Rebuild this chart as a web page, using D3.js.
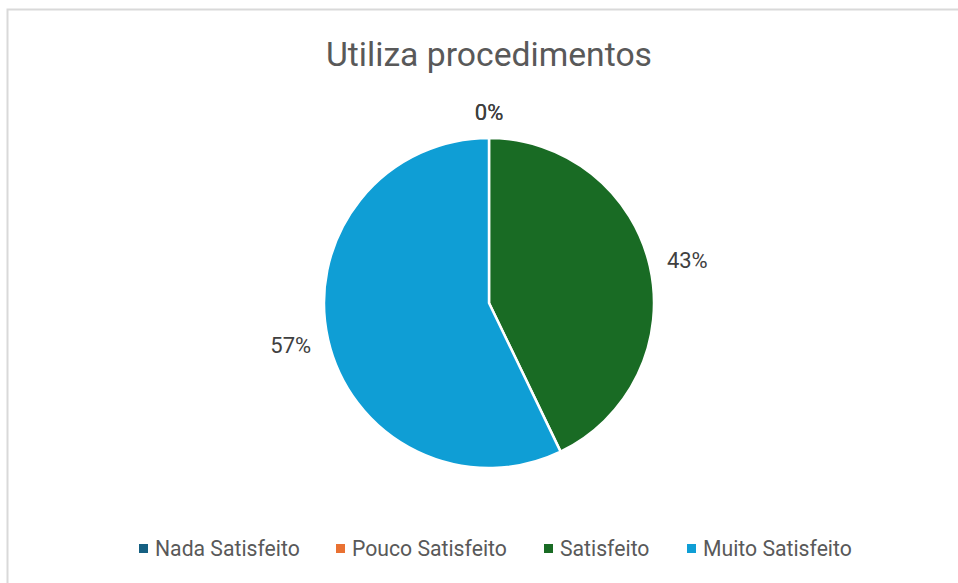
<!DOCTYPE html>
<html>
<head>
<meta charset="utf-8">
<script src="https://cdn.jsdelivr.net/npm/d3@7"></script>
<style>
  html, body { margin: 0; padding: 0; background: #fff; }
  svg { display: block; }
</style>
</head>
<body>
<svg id="chart" width="958" height="583"></svg>
<script>
// Satisfaction responses for "Utiliza procedimentos"
const categories = ["Nada Satisfeito", "Pouco Satisfeito", "Satisfeito", "Muito Satisfeito"];
const counts = [0, 0, 3, 4];
const colors = ["#156082", "#E97132", "#196B24", "#0F9ED5"];
const title = "Utiliza procedimentos";

const W = 958, H = 583;
const svg = d3.select("#chart");
const font = "Roboto, 'Liberation Sans', Arial, sans-serif";

// chart frame (right and bottom edges run past the view)
svg.append("rect")
  .attr("x", 7.5).attr("y", 9.5)
  .attr("width", 1000).attr("height", 1000)
  .attr("fill", "#fff")
  .attr("stroke", "#d9d9d9").attr("stroke-width", 2);

svg.append("text")
  .attr("x", 489).attr("y", 66)
  .attr("text-anchor", "middle")
  .attr("font-family", font)
  .attr("font-size", 33.7)
  .attr("fill", "#595959")
  .text(title);

const data = categories.map((c, i) => ({ cat: c, value: counts[i], color: colors[i] }));
const total = d3.sum(counts);

const cx = 489, cy = 303, R = 165;
const pie = d3.pie().sort(null).value(d => d.value);
const arcs = pie(data);
const arc = d3.arc().innerRadius(0).outerRadius(R);

const g = svg.append("g").attr("transform", `translate(${cx},${cy})`);

g.selectAll("path.slice")
  .data(arcs.filter(d => d.data.value > 0))
  .join("path")
  .attr("class", "slice")
  .attr("d", arc)
  .attr("fill", d => d.data.color)
  .attr("stroke", "#fff")
  .attr("stroke-width", 2.5)
  .attr("stroke-linejoin", "round");

// percentage labels placed just outside the arc
const gap = 18, labelH = 16;
const fmt = d3.format(".0%");
g.selectAll("text.lbl")
  .data(arcs)
  .join("text")
  .attr("class", "lbl")
  .attr("font-family", font)
  .attr("font-size", 22)
  .attr("fill", "#404040")
  .attr("text-anchor", "middle")
  .attr("dominant-baseline", "central")
  .text(d => fmt(d.data.value / total))
  .each(function(d) {
    const a = (d.startAngle + d.endAngle) / 2;
    const w = this.getComputedTextLength();
    const s = Math.sin(a), c = Math.cos(a);
    const x = s * (R + gap) + s * w / 2;
    const y = -c * (R + gap) - c * labelH / 2;
    d3.select(this).attr("x", x).attr("y", y);
  });

// legend
const legendX = [139, 336, 544, 687];
const legend = svg.append("g");
data.forEach((d, i) => {
  legend.append("rect")
    .attr("x", legendX[i]).attr("y", 544)
    .attr("width", 9).attr("height", 9)
    .attr("fill", d.color);
  legend.append("text")
    .attr("x", legendX[i] + 16).attr("y", 556)
    .attr("font-family", font)
    .attr("font-size", 21.2)
    .attr("fill", "#595959")
    .text(d.cat);
});
</script>
</body>
</html>
